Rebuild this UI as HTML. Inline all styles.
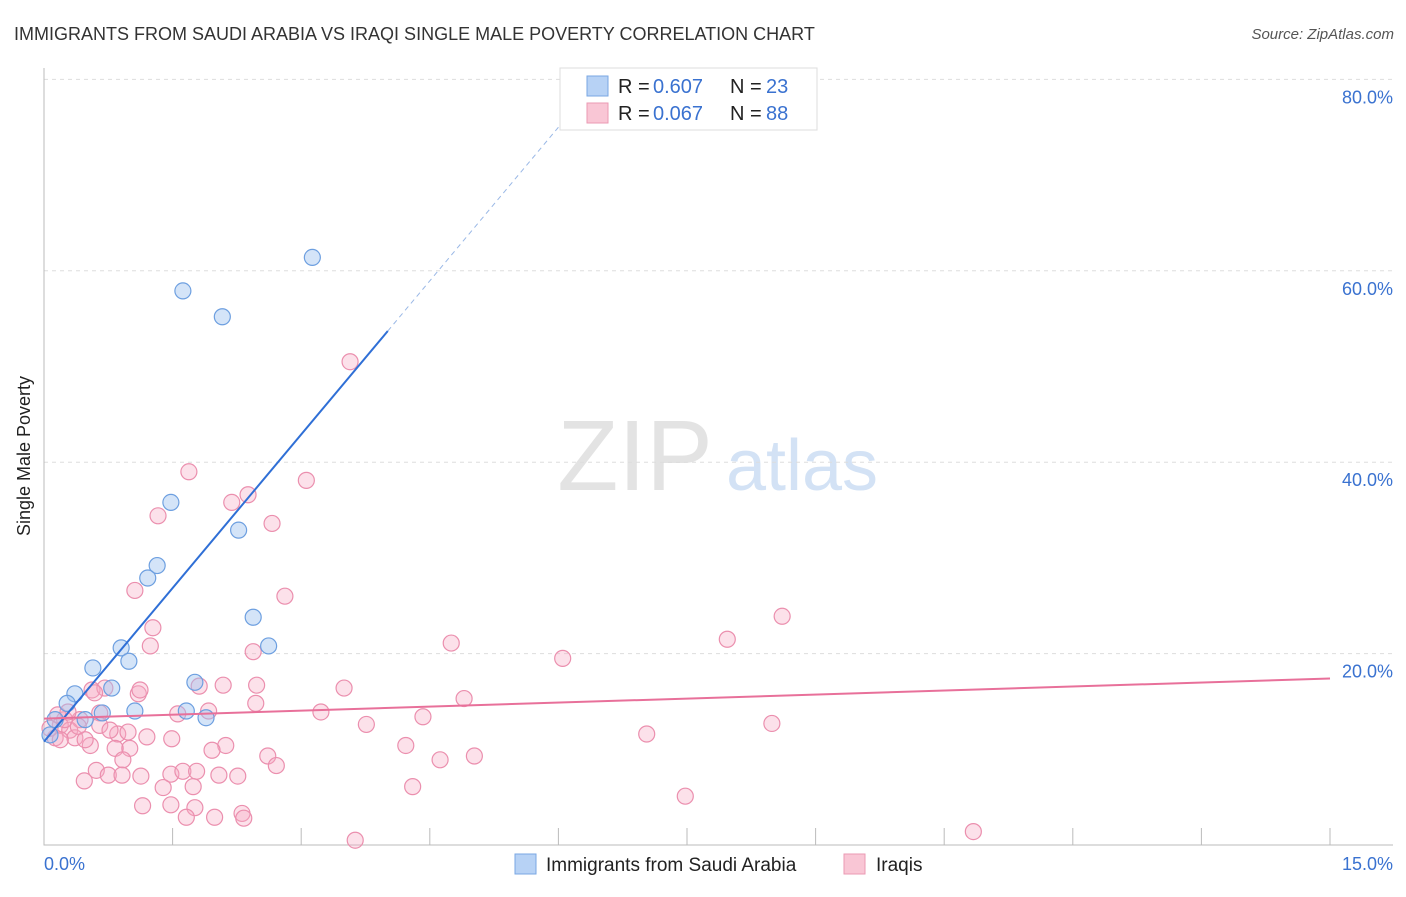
<!DOCTYPE html>
<html><head><meta charset="utf-8"><style>
body{margin:0;background:#fff;font-family:"Liberation Sans",sans-serif}
svg text{font-family:"Liberation Sans",sans-serif}
</style></head><body>
<svg id="chart" width="1406" height="892">
<text x="14" y="40" font-size="18" fill="#333">IMMIGRANTS FROM SAUDI ARABIA VS IRAQI SINGLE MALE POVERTY CORRELATION CHART</text>
<text x="1394" y="39" font-size="15" fill="#555" font-style="italic" text-anchor="end">Source: ZipAtlas.com</text>
<text x="30" y="456" font-size="18" fill="#222" text-anchor="middle" transform="rotate(-90 30 456)">Single Male Poverty</text>
<g><text x="635" y="490" font-size="100" fill="#ddd" font-family="Liberation Serif" text-anchor="middle" opacity="0.8">ZIP</text><text x="802" y="490" font-size="72" fill="#c9dcf3" text-anchor="middle" opacity="0.8">atlas</text></g>
<g id="grid"></g><g id="axes"></g><g id="marks"></g>
<g>
<rect x="560" y="68" width="257" height="62" fill="#fff" stroke="#ddd"/>
<rect x="587" y="76" width="21" height="20" fill="#b7d2f5" stroke="#7aa7e3"/>
<rect x="587" y="103" width="21" height="20" fill="#f9c6d5" stroke="#eb9ab3"/>
<text x="618" y="93" font-size="20" fill="#222">R =</text>
<text x="653" y="93" font-size="20" fill="#3a72d0">0.607</text>
<text x="730" y="93" font-size="20" fill="#222">N =</text>
<text x="766" y="93" font-size="20" fill="#3a72d0">23</text>
<text x="618" y="120" font-size="20" fill="#222">R =</text>
<text x="653" y="120" font-size="20" fill="#3a72d0">0.067</text>
<text x="730" y="120" font-size="20" fill="#222">N =</text>
<text x="766" y="120" font-size="20" fill="#3a72d0">88</text>
</g>
<g>
<rect x="515" y="854" width="21" height="20" fill="#b7d2f5" stroke="#7aa7e3"/>
<text x="546" y="871" font-size="19" fill="#222">Immigrants from Saudi Arabia</text>
<rect x="844" y="854" width="21" height="20" fill="#f9c6d5" stroke="#eb9ab3"/>
<text x="876" y="871" font-size="19" fill="#222">Iraqis</text>
</g>
</svg>
<script>
const yTicks=[20,40,60,80];
const xTickCount=10;
const blueX=[3.13,1.62,2.08,1.48,2.27,1.32,1.21,2.44,2.62,0.90,0.99,0.57,0.79,0.36,1.76,0.27,0.68,1.06,1.66,1.89,0.48,0.13,0.07];
const blueY=[61.4,57.9,55.2,35.8,32.9,29.2,27.9,23.8,20.8,20.6,19.2,18.5,16.4,15.8,17.0,14.8,13.8,14.0,14.0,13.3,13.1,13.1,11.5];
const pinkX=[3.57,1.69,3.06,2.38,2.19,1.33,2.66,1.06,2.81,1.27,1.24,4.75,7.97,8.61,6.05,2.44,1.81,2.09,2.48,3.50,1.10,0.56,0.71,4.90,2.47,1.56,1.92,3.23,4.42,3.76,8.49,7.03,0.65,0.42,0.19,0.30,0.13,0.36,0.54,0.86,0.98,1.20,1.49,2.12,1.96,1.00,0.83,0.92,2.61,2.71,4.22,4.62,5.02,0.61,0.75,0.91,1.13,1.48,1.62,1.78,2.04,2.26,0.47,1.39,1.74,4.30,7.48,1.15,1.48,1.76,2.31,2.33,1.66,1.99,3.63,10.84,0.24,0.07,0.16,0.28,0.48,0.65,1.12,0.19,0.40,0.59,0.77];
const pinkY=[50.5,39.0,38.1,36.6,35.8,34.4,33.6,26.6,26.0,22.7,20.8,21.1,21.5,23.9,19.5,20.2,16.6,16.7,16.7,16.4,15.8,16.2,16.4,15.3,14.8,13.7,14.0,13.9,13.4,12.6,12.7,11.6,13.8,13.1,12.5,12.0,11.2,11.2,10.4,11.6,11.8,11.3,11.1,10.4,9.9,10.1,10.1,8.9,9.3,8.3,10.4,8.9,9.3,7.8,7.3,7.3,7.2,7.4,7.7,7.7,7.3,7.2,6.7,6.0,6.1,6.1,5.1,4.1,4.2,3.9,3.3,2.8,2.9,2.9,0.5,1.4,13.1,12.2,13.6,13.9,11.0,12.5,16.2,11.0,12.4,15.9,12.0];
const blueLine=[10.8,10.7];
const pinkLine=[13.2,0.28];
const X=v=>44+v*(1286/15), Y=v=>845-v*9.57;
const NS='http://www.w3.org/2000/svg';
function mk(p,t,a){const e=document.createElementNS(NS,t);for(const k in a)e.setAttribute(k,a[k]);document.getElementById(p).appendChild(e);return e;}
yTicks.forEach(t=>{
 const l=mk('grid','line',{x1:44,x2:1393,y1:Y(t),y2:Y(t),stroke:'#ddd','stroke-dasharray':'4 4'});
 
 
 const tx=mk('grid','text',{x:1393,y:Y(t)+24,'font-size':18,fill:'#3a72d0','text-anchor':'end'});tx.textContent=t.toFixed(1)+'%';
 
 
});
const ax=mk('axes','path',{d:'M44 68V845H1393',stroke:'#bbb',fill:'none'});


for(let i=1;i<=xTickCount;i++){const t=mk('axes','line',{x1:X(i*1.5),x2:X(i*1.5),y1:828,y2:845,stroke:'#bbb'});
 
 }
const x0=mk('axes','text',{x:44,y:870,'font-size':18,fill:'#3a72d0'});x0.textContent='0.0%';


const x1=mk('axes','text',{x:1393,y:870,'font-size':18,fill:'#3a72d0','text-anchor':'end'});x1.textContent='15.0%';


pinkX.forEach((v,i)=>{const c=mk('marks','circle',{cx:X(v),cy:Y(pinkY[i]),r:8,fill:'rgba(246,170,195,0.35)',stroke:'#eb8fae','stroke-width':1.2});
 
 });
blueX.forEach((v,i)=>{const c=mk('marks','circle',{cx:X(v),cy:Y(blueY[i]),r:8,fill:'rgba(160,195,240,0.45)',stroke:'#6d9fe0','stroke-width':1.2});
 
 });
const bEnd=4.01,bFar=6.0;
const bl=mk('marks','line',{x1:X(0),y1:Y(blueLine[0]),x2:X(bEnd),y2:Y(blueLine[0]+blueLine[1]*bEnd),stroke:'#2f6fd6','stroke-width':2});


const bd=mk('marks','line',{x1:X(bEnd),y1:Y(blueLine[0]+blueLine[1]*bEnd),x2:X(bFar),y2:Y(blueLine[0]+blueLine[1]*bFar),stroke:'#9ab8e6','stroke-width':1,'stroke-dasharray':'5 4'});


const pl=mk('marks','line',{x1:X(0),y1:Y(pinkLine[0]),x2:X(15),y2:Y(pinkLine[0]+pinkLine[1]*15),stroke:'#e8709a','stroke-width':2});


</script>
</body></html>
